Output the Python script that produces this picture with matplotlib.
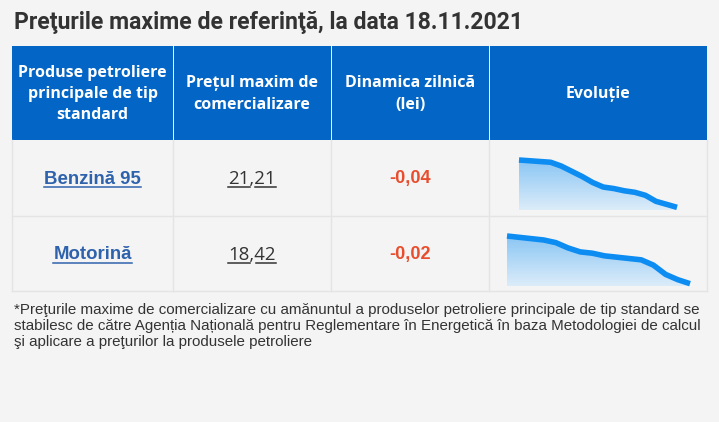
import numpy as np
import matplotlib.pyplot as plt
from matplotlib.patches import Rectangle
from matplotlib.lines import Line2D
from matplotlib.colors import LinearSegmentedColormap

# ---- data ----
title = "Preţurile maxime de referinţă, la data 18.11.2021"
headers = ["Produse petroliere\nprincipale de tip\nstandard",
           "Prețul maxim de\ncomercializare",
           "Dinamica zilnică\n(lei)",
           "Evoluție"]
products = ["Benzină 95", "Motorină"]
prices = ["21,21", "18,42"]
daily_change = ["-0,04", "-0,02"]
benzina_history = [21.84, 21.83, 21.82, 21.81, 21.76, 21.69, 21.62, 21.54,
                   21.48, 21.46, 21.43, 21.41, 21.37, 21.29, 21.25, 21.21]
motorina_history = [18.78, 18.77, 18.76, 18.75, 18.73, 18.69, 18.66, 18.65,
                    18.63, 18.62, 18.61, 18.60, 18.56, 18.49, 18.45, 18.42]
footnote = ("*Preţurile maxime de comercializare cu amănuntul a produselor petroliere principale de tip standard se\n"
            "stabilesc de către Agenția Națională pentru Reglementare în Energetică în baza Metodologiei de calcul\n"
            "şi aplicare a preţurilor la produsele petroliere")

W, H = 719, 422
BG = "#f4f4f4"
BLUE = "#0366c6"
GRID = "#e4e4e4"

fig = plt.figure(figsize=(W / 100, H / 100), dpi=100, facecolor=BG)
base = fig.add_axes([0, 0, 1, 1])
base.set_xlim(0, W)
base.set_ylim(H, 0)
base.axis("off")

cols = [12, 173, 331, 489, 707]
header_top, header_bot = 46, 140
rows = [140, 216, 291]

# header cells
for i in range(4):
    base.add_patch(Rectangle((cols[i] + (1 if i else 0), header_top),
                             cols[i + 1] - cols[i] - (1 if i else 0), header_bot - header_top,
                             color=BLUE, lw=0))
    cx = (cols[i] + cols[i + 1]) / 2
    base.text(cx, (header_top + header_bot) / 2 + 1, headers[i], color="white",
              fontsize=11.5, fontweight="bold", family="Open Sans",
              ha="center", va="center", linespacing=1.42)

# grid lines for body
for y in rows[1:]:
    base.add_line(Line2D([cols[0], cols[-1]], [y, y], color=GRID, lw=1))
for x in cols:
    base.add_line(Line2D([x, x], [rows[0], rows[-1]], color=GRID, lw=1))

fig.canvas.draw()
renderer = fig.canvas.get_renderer()
inv = base.transData.inverted()


def text_width(s, **kw):
    t = base.text(0, 0, s, **kw)
    fig.canvas.draw()
    bb = t.get_window_extent(renderer)
    t.remove()
    return inv.transform([[bb.x1, 0]])[0][0] - inv.transform([[bb.x0, 0]])[0][0]


for r in range(2):
    cy = (rows[r] + rows[r + 1]) / 2 + 1

    # product name, underlined link
    t = base.text((cols[0] + cols[1]) / 2, cy, products[r], color="#2f62ac",
                  fontsize=13.4, fontweight="bold", family="Liberation Sans",
                  ha="center", va="center")
    fig.canvas.draw()
    bb = t.get_window_extent(renderer)
    (x0, yb), (x1, _) = inv.transform([[bb.x0, bb.y0], [bb.x1, bb.y1]])
    base.add_line(Line2D([x0, x1], [yb, yb], color="#2f62ac", lw=1.1))

    # price, each part underlined
    num_kw = dict(fontsize=13.4, family="Open Sans")
    left, right = prices[r].split(",")
    cx = (cols[1] + cols[2]) / 2
    t = base.text(cx, cy, prices[r], color="#333333", ha="center", va="center", **num_kw)
    fig.canvas.draw()
    bb = t.get_window_extent(renderer)
    (x0, yb), (x1, _) = inv.transform([[bb.x0, bb.y0], [bb.x1, bb.y1]])
    wl = text_width(left, **num_kw)
    wc = text_width(left + ",", **num_kw)
    uy = yb - 1
    base.add_line(Line2D([x0, x0 + wl], [uy, uy], color="#333333", lw=1.1))
    base.add_line(Line2D([x0 + wc + 1, x1], [uy, uy], color="#333333", lw=1.1))

    base.text((cols[2] + cols[3]) / 2, cy, daily_change[r], color="#e84e2e",
              fontsize=13.1, fontweight="bold", family="Liberation Sans",
              ha="center", va="center")

base.text(14, 22, title, color="#333333", fontsize=16.6, fontweight="bold",
          family="Roboto", ha="left", va="center")

base.text(14, 326, footnote, color="#333333", fontsize=10.87, family="Liberation Sans",
          ha="left", va="center", linespacing=1.16)


# sparklines
def sparkline(values, box, pad_frac):
    x0, y0, x1, y1 = box  # pixel box: left, top, right, bottom
    ax = fig.add_axes([x0 / W, 1 - y1 / H, (x1 - x0) / W, (y1 - y0) / H])
    ax.set_facecolor("none")
    ax.axis("off")
    xs = np.arange(len(values))
    vmin, vmax = min(values), max(values)
    lo = vmin - (vmax - vmin) * pad_frac
    ax.set_xlim(0, len(values) - 1)
    ax.set_ylim(lo, vmax)
    grad = np.linspace(0, 1, 100).reshape(-1, 1)
    cmap = LinearSegmentedColormap.from_list("g", ["#dcecf9", "#8ac6f4"])
    im = ax.imshow(grad, cmap=cmap, aspect="auto", origin="lower",
                   extent=[0, len(values) - 1, lo, vmax], zorder=1)
    poly = ax.fill_between(xs, values, lo, color="none", lw=0)
    im.set_clip_path(poly.get_paths()[0], transform=ax.transData)
    ax.plot(xs, values, color="#0d8cf2", lw=4.0, solid_capstyle="butt",
            solid_joinstyle="round", clip_on=False, zorder=2)


sparkline(benzina_history, (519, 160, 677, 210), 8 / 142)
sparkline(motorina_history, (507, 236, 690, 286), 7 / 143)

fig.savefig("out.png", dpi=100, facecolor=BG)
